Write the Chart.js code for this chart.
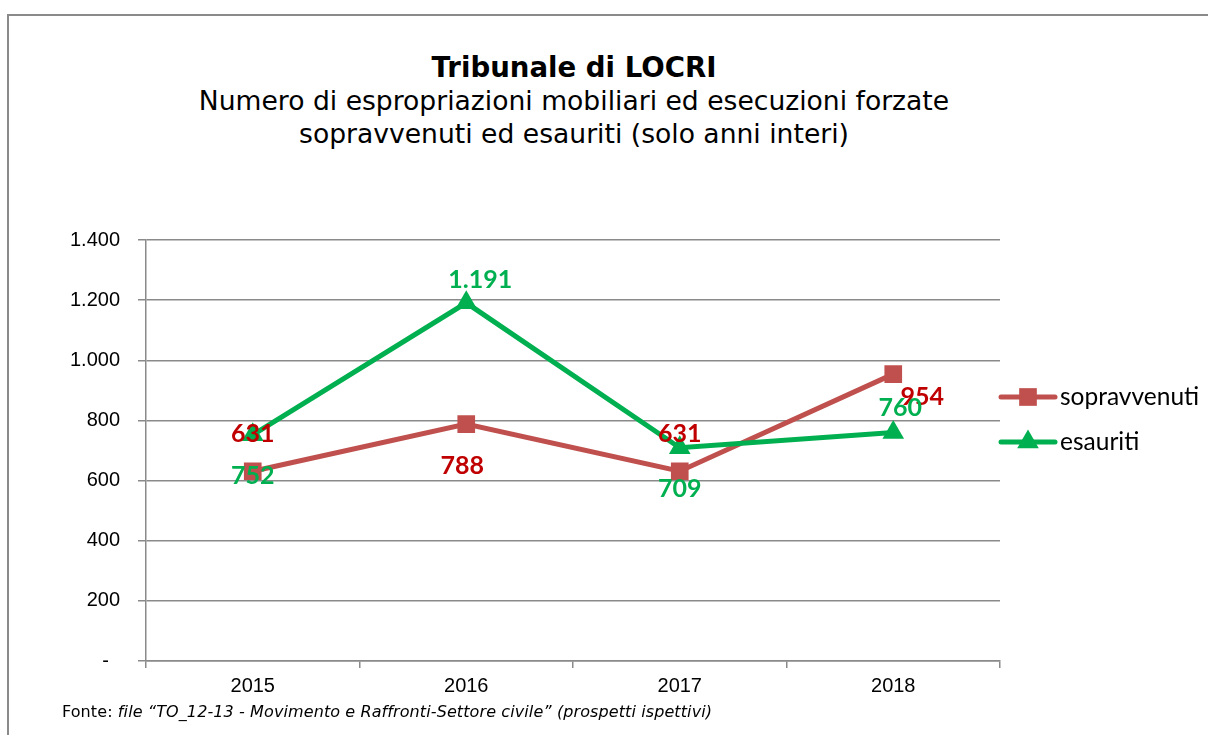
<!DOCTYPE html>
<html>
<head>
<meta charset="utf-8">
<script src="https://cdn.jsdelivr.net/npm/chart.js@4/dist/chart.umd.min.js"></script>
<style>
  html,body{margin:0;padding:0;background:#fff;overflow:hidden}
  #wrap{position:relative;width:1208px;height:735px}
  #frame{position:absolute;left:7px;top:14px;width:1220px;height:740px;border:2px solid #8a8a8a;box-sizing:border-box}
  #titles{position:absolute;left:0;top:51px;width:1148px;text-align:center;font-family:'DejaVu Sans',Verdana,sans-serif;font-size:26.6px;line-height:33px;color:#000}
  #titles b{font-weight:bold;font-size:27.6px}
  #fonte{position:absolute;left:62px;top:702px;font-family:'DejaVu Sans',Verdana,sans-serif;font-size:16px;letter-spacing:0.1px;color:#000;white-space:nowrap}
  #fonte i{font-style:italic}
  #box{position:absolute;left:0;top:0;width:1208px;height:735px}
</style>
</head>
<body>
<div id="wrap">
  <div id="frame"></div>
  <div id="titles"><b>Tribunale di LOCRI</b><br>Numero di espropriazioni mobiliari ed esecuzioni forzate<br>sopravvenuti ed esauriti (solo anni interi)</div>
  <div id="box"><canvas id="chart"></canvas></div>
  <div id="fonte">Fonte: <i>file “TO_12-13 - Movimento e Raffronti-Settore civile” (prospetti ispettivi)</i></div>
</div>
<script>
const years=['2015','2016','2017','2018'];
const sopravvenuti=[631,788,631,954];
const esauriti=[752,1191,709,760];
const yTicks=[0,200,400,600,800,1000,1200,1400];

const RED='#C0504D', GREEN='#00B050', RED_LBL='#C00000', GRID='#8a8a8a';
const fmtIt=v=>String(v).replace(/\B(?=(\d{3})+(?!\d))/g,'.');

// data labels, each point gets its own nudge (Excel placed them by hand)
const valueLabels={
  id:'valueLabels',
  afterDatasetsDraw(chart){
    const {ctx}=chart;
    ctx.save();
    ctx.font='bold 25px Lato, "Open Sans", sans-serif';
    ctx.textAlign='center';ctx.textBaseline='middle';
    chart.data.datasets.forEach((ds,di)=>{
      const meta=chart.getDatasetMeta(di);
      ctx.fillStyle=ds.labelColor;
      meta.data.forEach((pt,i)=>{
        const o=ds.labelOffsets[i];
        ctx.fillText(fmtIt(ds.data[i]),pt.x+o[0],pt.y+o[1]);
      });
    });
    ctx.restore();
  }
};

// legend to the right: line + marker + name
const sideLegend={
  id:'sideLegend',
  afterDraw(chart){
    const {ctx}=chart;
    const x0=1001,x1=1055,rows=[397,442];
    ctx.save();
    chart.data.datasets.forEach((ds,i)=>{
      const y=rows[i],cx=(x0+x1)/2;
      ctx.strokeStyle=ds.borderColor;ctx.lineWidth=5;ctx.lineCap='round';
      ctx.beginPath();ctx.moveTo(x0,y);ctx.lineTo(x1,y);ctx.stroke();
      ctx.fillStyle=ds.backgroundColor;
      const r=ds.pointRadius;
      ctx.beginPath();
      if(ds.pointStyle==='rect'){
        const s=r*Math.SQRT1_2;
        ctx.rect(cx-s,y-s,2*s,2*s);
      }else{
        ctx.moveTo(cx,y-r);
        ctx.lineTo(cx+r*Math.sin(Math.PI*2/3),y+r*0.5);
        ctx.lineTo(cx-r*Math.sin(Math.PI*2/3),y+r*0.5);
        ctx.closePath();
      }
      ctx.fill();
      ctx.fillStyle='#000';
      ctx.font='24.5px Lato, "Open Sans", sans-serif';
      ctx.textAlign='left';ctx.textBaseline='middle';
      ctx.fillText(ds.label,x1+5,y);
    });
    ctx.restore();
  }
};

new Chart(document.getElementById('chart'),{
  type:'line',
  plugins:[valueLabels,sideLegend],
  data:{
    labels:years,
    datasets:[
      {
        label:'sopravvenuti',data:sopravvenuti,
        borderColor:RED,backgroundColor:RED,borderWidth:5,
        pointStyle:'rect',pointRadius:12.5,pointHoverRadius:12.5,pointBorderWidth:0,
        labelColor:RED_LBL,
        labelOffsets:[[0,-37],[-4,42],[0,-37],[29,23]],
        order:1
      },
      {
        label:'esauriti',data:esauriti,
        borderColor:GREEN,backgroundColor:GREEN,borderWidth:5,
        pointStyle:'triangle',pointRadius:12.5,pointHoverRadius:12.5,pointBorderWidth:0,
        labelColor:GREEN,
        labelOffsets:[[0,41],[14,-23],[0,41],[7,-25]],
        order:0
      }
    ]
  },
  options:{
    responsive:true,maintainAspectRatio:false,animation:false,
    layout:{padding:{top:240,right:208,bottom:0,left:0}},
    plugins:{legend:{display:false},tooltip:{enabled:false},title:{display:false}},
    elements:{line:{tension:0}},
    scales:{
      x:{
        offset:true,
        grid:{drawOnChartArea:false,offset:true,tickLength:7,color:GRID,lineWidth:1.5},
        border:{display:true,color:GRID,width:1.5},
        ticks:{color:'#000',font:{family:'"Liberation Sans", Arial, sans-serif',size:20},padding:6},
        afterFit(s){s.height=74;}
      },
      y:{
        min:0,max:1400,
        afterBuildTicks(s){s.ticks=yTicks.map(v=>({value:v}));},
        grid:{color:GRID,lineWidth:1.5,tickLength:8},
        border:{display:true,color:GRID,width:1.5},
        ticks:{
          color:'#000',font:{family:'"Liberation Sans", Arial, sans-serif',size:20},padding:18,
          callback:v=>v===0?'-  ':fmtIt(v)
        },
        afterFit(s){s.width=146;}
      }
    }
  }
});
</script>
</body>
</html>
